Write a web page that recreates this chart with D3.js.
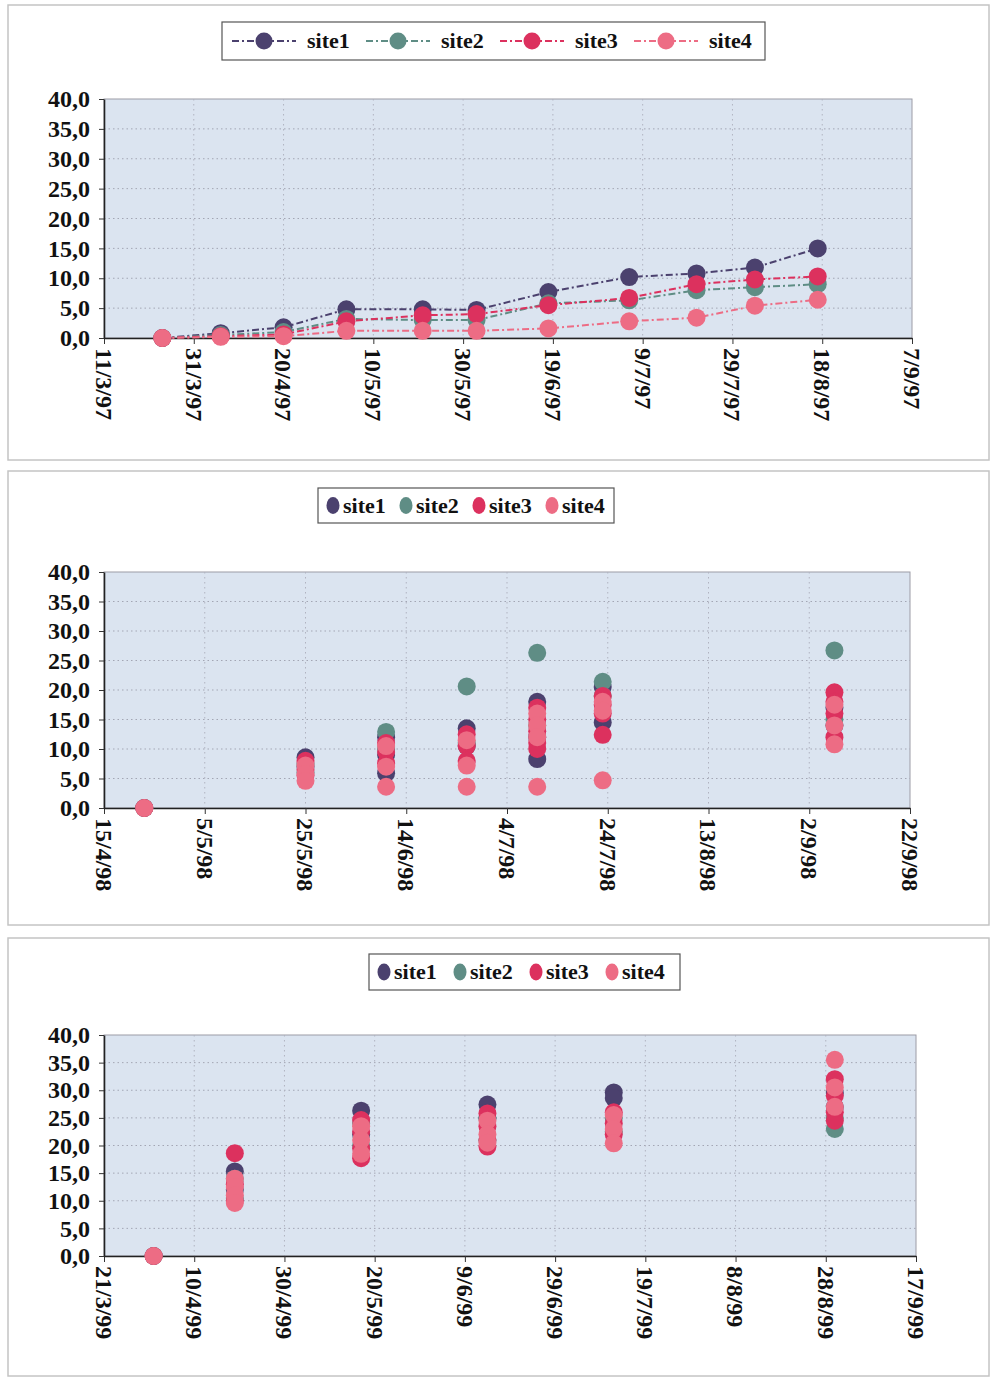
<!DOCTYPE html>
<html>
<head>
<meta charset="utf-8">
<script src="https://cdn.jsdelivr.net/npm/d3@7"></script>
<style>
  body { margin: 0; background: #fff; }
  svg { display: block; }
</style>
</head>
<body>
<svg id="chart" width="990" height="1378"></svg>
<script>
// ---- shared ----
const siteNames = ["site1", "site2", "site3", "site4"];
const siteColors = ["#4b416e", "#5f8d85", "#dc315e", "#ed6c84"];
const yTicks = [0, 5, 10, 15, 20, 25, 30, 35, 40];

// ---- 1997 season (one value per site and date) ----
const ticks97 = ["11/3/97", "31/3/97", "20/4/97", "10/5/97", "30/5/97", "19/6/97", "9/7/97", "29/7/97", "18/8/97", "7/9/97"];
const dates97 = ["24/3/97", "6/4/97", "20/4/97", "4/5/97", "21/5/97", "2/6/97", "18/6/97", "6/7/97", "21/7/97", "3/8/97", "17/8/97"];
const site1_97 = [0, 0.8, 1.8, 4.8, 4.8, 4.7, 7.7, 10.2, 10.8, 11.8, 15.0];
const site2_97 = [0, 0.5, 1.0, 3.2, 3.0, 3.0, 5.8, 6.3, 8.0, 8.5, 9.0];
const site3_97 = [0, 0.3, 0.6, 2.8, 3.8, 4.0, 5.5, 6.7, 9.0, 9.8, 10.3];
const site4_97 = [0, 0.2, 0.3, 1.2, 1.2, 1.2, 1.6, 2.8, 3.4, 5.4, 6.4];

// ---- 1998 season (replicate values per site and date) ----
const ticks98 = ["15/4/98", "5/5/98", "25/5/98", "14/6/98", "4/7/98", "24/7/98", "13/8/98", "2/9/98", "22/9/98"];
const dates98 = ["23/4/98", "25/5/98", "10/6/98", "26/6/98", "10/7/98", "23/7/98", "7/9/98"];
const site1_98 = [[0], [8.6, 7.0], [12.0, 9.0, 5.9], [13.5, 10.5], [18.0, 12.0, 8.3], [20.5, 14.5], [17.0, 14.0]];
const site2_98 = [[0], [7.5, 6.0], [12.9, 10.0], [20.6, 11.0], [26.3, 14.0], [21.4, 19.0], [26.7, 15.0]];
const site3_98 = [[0], [8.0, 6.5, 5.5], [11.0, 9.5, 7.6], [12.5, 10.5, 8.0], [17.0, 15.0, 13.0, 11.0, 10.0], [19.0, 17.5, 16.0, 12.4], [19.6, 18.0, 16.0, 12.0]];
const site4_98 = [[0], [7.2, 5.8, 4.6], [10.5, 7.0, 3.6], [11.5, 7.2, 3.6], [16.0, 14.0, 12.0, 3.6], [18.0, 16.5, 4.7], [17.5, 14.0, 10.8]];

// ---- 1999 season (replicate values per site and date) ----
const ticks99 = ["21/3/99", "10/4/99", "30/4/99", "20/5/99", "9/6/99", "29/6/99", "19/7/99", "8/8/99", "28/8/99", "17/9/99"];
const dates99 = ["1/4/99", "19/4/99", "17/5/99", "14/6/99", "12/7/99", "30/8/99"];
const site1_99 = [[0], [15.3, 12.0], [26.3, 22.0], [27.4, 25.0], [29.6, 28.6], [29.5, 27.0]];
const site2_99 = [[0], [14.0, 10.5], [24.0, 20.0], [25.0, 21.0], [25.0, 22.5], [23.0, 25.0]];
const site3_99 = [[0], [18.6, 13.0, 10.0], [24.6, 22.5, 19.5, 17.7], [25.8, 23.5, 21.0, 19.8], [26.0, 24.0, 22.0], [32.0, 29.0, 26.0, 24.5]];
const site4_99 = [[0], [14.0, 12.5, 11.0, 9.6], [23.5, 21.0, 18.5], [24.5, 22.0, 20.5], [25.5, 23.0, 20.4], [35.5, 30.5, 27.0]];

const FONT = "'Liberation Serif', 'Times New Roman', serif";
const parseDate = d3.utcParse("%d/%m/%y");
const fmtY = v => d3.format(".1f")(v).replace(".", ",");
const svg = d3.select("#chart");

function drawPanel(cfg) {
  const g = svg.append("g");
  const [bx0, by0, bx1, by1] = cfg.box;
  g.append("rect")
    .attr("x", bx0).attr("y", by0).attr("width", bx1 - bx0).attr("height", by1 - by0)
    .attr("fill", "#fff").attr("stroke", "#c4c4c4").attr("stroke-width", 1.5);

  const [L, T, R, B] = cfg.plot;
  const tickDates = cfg.ticks.map(parseDate);
  const x = d3.scaleUtc().domain([tickDates[0], tickDates[tickDates.length - 1]]).range([L, R]);
  const y = d3.scaleLinear().domain([0, 40]).range([B, T]);

  // plot area
  g.append("rect").attr("x", L).attr("y", T).attr("width", R - L).attr("height", B - T)
    .attr("fill", "#dbe4f0").attr("stroke", "#9c9ca6").attr("stroke-width", 1);

  // dotted gridlines
  g.append("g").selectAll("line").data(yTicks.slice(1, -1)).join("line")
    .attr("x1", L).attr("x2", R).attr("y1", d => y(d)).attr("y2", d => y(d))
    .attr("stroke", "#a3a6b4").attr("stroke-width", 1).attr("stroke-dasharray", "1.5,3");
  g.append("g").selectAll("line").data(tickDates.slice(1, -1)).join("line")
    .attr("x1", d => x(d)).attr("x2", d => x(d)).attr("y1", T).attr("y2", B)
    .attr("stroke", "#b0b3c0").attr("stroke-width", 1).attr("stroke-dasharray", "1.5,3.5");

  // axes
  const xAxis = g.append("g").attr("transform", `translate(0,${B})`)
    .call(d3.axisBottom(x).tickValues(tickDates).tickFormat((d, i) => cfg.ticks[i]).tickSize(6).tickSizeOuter(0));
  xAxis.select(".domain").attr("stroke", "#222").attr("stroke-width", 1.6);
  xAxis.selectAll(".tick line").attr("stroke", "#333");
  xAxis.selectAll(".tick text")
    .attr("x", 10).attr("y", 0).attr("dy", "0.36em")
    .attr("transform", "rotate(90)")
    .style("text-anchor", "start")
    .attr("font-family", FONT).attr("font-weight", "bold").attr("font-size", 24).attr("fill", "#111");

  const yAxis = g.append("g").attr("transform", `translate(${L},0)`)
    .call(d3.axisLeft(y).tickValues(yTicks).tickFormat(fmtY).tickSize(5).tickSizeOuter(0).tickPadding(9));
  yAxis.select(".domain").attr("stroke", "#222").attr("stroke-width", 1.6);
  yAxis.selectAll(".tick line").attr("stroke", "#333");
  yAxis.selectAll(".tick text")
    .attr("font-family", FONT).attr("font-weight", "bold").attr("font-size", 24).attr("fill", "#111");

  // series
  cfg.series.forEach((vals, si) => {
    const pts = [];
    cfg.dates.forEach((ds, di) => {
      const v = vals[di];
      (Array.isArray(v) ? v : [v]).forEach(val => pts.push({ date: parseDate(ds), val }));
    });
    if (cfg.lines) {
      g.append("path").datum(pts)
        .attr("fill", "none").attr("stroke", siteColors[si]).attr("stroke-width", 2)
        .attr("stroke-dasharray", "7,3,2,3")
        .attr("d", d3.line().x(d => x(d.date)).y(d => y(d.val)));
    }
    g.append("g").selectAll("circle").data(pts).join("circle")
      .attr("cx", d => x(d.date)).attr("cy", d => y(d.val)).attr("r", 9)
      .attr("fill", siteColors[si]);
  });

  // legend
  const lg = cfg.legend;
  g.append("rect").attr("x", lg.box[0]).attr("y", lg.box[1])
    .attr("width", lg.box[2] - lg.box[0]).attr("height", lg.box[3] - lg.box[1])
    .attr("fill", "#fff").attr("stroke", "#555").attr("stroke-width", 1.2);
  const cy = (lg.box[1] + lg.box[3]) / 2;
  siteNames.forEach((name, i) => {
    const x0 = lg.start + i * lg.step;
    if (cfg.lines) {
      g.append("line").attr("x1", x0).attr("x2", x0 + lg.lineLen).attr("y1", cy).attr("y2", cy)
        .attr("stroke", siteColors[i]).attr("stroke-width", 2).attr("stroke-dasharray", "7,3,2,3");
      g.append("circle").attr("cx", x0 + lg.lineLen / 2).attr("cy", cy).attr("r", 8.5).attr("fill", siteColors[i]);
    } else {
      g.append("ellipse").attr("cx", x0).attr("cy", cy).attr("rx", 6.5).attr("ry", 8.5).attr("fill", siteColors[i]);
    }
    g.append("text").attr("x", x0 + lg.textOff).attr("y", cy).attr("dy", "0.33em")
      .attr("font-family", FONT).attr("font-weight", "bold").attr("font-size", 22).attr("fill", "#111")
      .text(name);
  });
}

drawPanel({
  box: [8, 5, 989, 460], plot: [104, 99, 912, 338],
  ticks: ticks97, dates: dates97, series: [site1_97, site2_97, site3_97, site4_97], lines: true,
  legend: { box: [222, 22, 765, 60], start: 232, step: 134, lineLen: 64, textOff: 75 }
});
drawPanel({
  box: [8, 471, 989, 925], plot: [104, 572, 910, 808],
  ticks: ticks98, dates: dates98, series: [site1_98, site2_98, site3_98, site4_98], lines: false,
  legend: { box: [318, 488, 614, 523], start: 333, step: 73, textOff: 10 }
});
drawPanel({
  box: [8, 938, 989, 1376], plot: [104, 1035, 916, 1256],
  ticks: ticks99, dates: dates99, series: [site1_99, site2_99, site3_99, site4_99], lines: false,
  legend: { box: [369, 954, 680, 990], start: 384, step: 76, textOff: 10 }
});
</script>
</body>
</html>
